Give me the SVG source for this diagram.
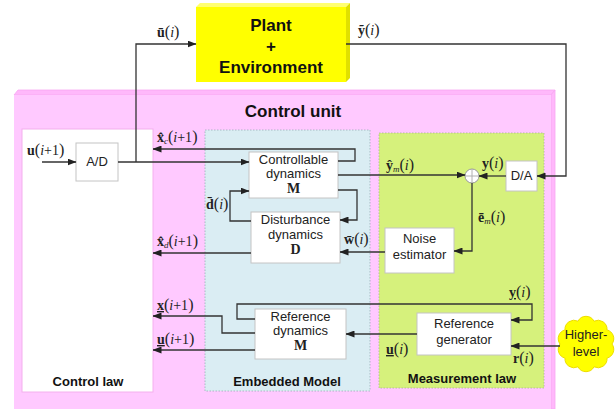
<svg xmlns="http://www.w3.org/2000/svg" width="616" height="409" viewBox="0 0 616 409">
  <style>
    .box { fill: #ffffff; stroke: #c4c4c4; stroke-width: 1; }
    .lbl { font-family: "Liberation Sans", Arial, sans-serif; font-size: 13px; fill: #222; text-anchor: middle; }
    .ttl { font-family: "Liberation Sans", Arial, sans-serif; font-weight: bold; fill: #111; text-anchor: middle; }
    .mx { font-family: "Liberation Serif", "Times New Roman", serif; font-size: 14px; fill: #222; }
    .b { font-weight: bold; }
    .it { font-style: italic; }
    .p { font-size: 16px; }
    .sub { font-size: 9px; font-style: italic; }
    .ul { text-decoration: underline; }
    .wire { fill: none; stroke: #333333; stroke-width: 1.3; }
    .arr { marker-end: url(#head); }
  </style>
  <defs>
    <marker id="head" markerWidth="9" markerHeight="7" refX="8.5" refY="3.5" orient="auto" markerUnits="userSpaceOnUse">
      <path d="M0,0 L9,3.5 L0,7 z" fill="#222222"/>
    </marker>
  </defs>

  <!-- Plant + Environment (bevelled block) -->
  <g id="plant">
    <polygon points="196,7 200,3 350,3 346,7" fill="#ffff70"/>
    <polygon points="346,7 350,3 350,78 346,82" fill="#e0e000"/>
    <rect x="196" y="7" width="150" height="75" fill="#ffff00"/>
    <text class="ttl" x="271" y="31" font-size="17">Plant</text>
    <text class="ttl" x="271" y="52" font-size="17">+</text>
    <text class="ttl" x="271" y="73" font-size="17">Environment</text>
  </g>

  <!-- Control unit (bevelled container) -->
  <g id="control-unit">
    <polygon points="14,95 18,90 555,90 551,95" fill="#ffb8fb" stroke="#f8a6f2" stroke-width="0.8"/>
    <polygon points="551,95 555,90 555,409 551,409" fill="#ffb8fb" stroke="#f8a6f2" stroke-width="0.8"/>
    <rect x="14" y="95" width="537" height="314" fill="#ffc9ff"/>
    <text class="ttl" x="293" y="117" font-size="17">Control unit</text>
  </g>

  <g id="control-law">
    <rect x="22" y="129" width="131" height="263" fill="#ffffff" stroke="#f4b0ee" stroke-width="1"/>
    <text class="ttl" x="88" y="386" font-size="13">Control law</text>
  </g>

  <g id="embedded-model">
    <rect x="205" y="130" width="165" height="261" fill="#daedf3" stroke="#99b0b8" stroke-width="0.8" stroke-dasharray="1.5,1.5"/>
    <text class="ttl" x="287" y="386" font-size="13">Embedded Model</text>
  </g>

  <g id="measurement-law">
    <rect x="379" y="133" width="165" height="255" fill="#d6f17c" stroke="#a9b890" stroke-width="0.8" stroke-dasharray="1.5,1.5"/>
    <text class="ttl" x="462" y="383" font-size="13">Measurement law</text>
  </g>

  <!-- Blocks -->
  <g id="ad">
    <rect class="box" x="76" y="143" width="42" height="38"/>
    <text class="lbl" x="97" y="166">A/D</text>
  </g>

  <g id="controllable">
    <rect class="box" x="249" y="152" width="89" height="46"/>
    <text class="lbl" x="293.5" y="164">Controllable</text>
    <text class="lbl" x="293.5" y="178">dynamics</text>
    <text class="mx b" x="293.5" y="193" text-anchor="middle" font-size="13">M</text>
  </g>

  <g id="disturbance">
    <rect class="box" x="251" y="212" width="89" height="51"/>
    <text class="lbl" x="295.5" y="224">Disturbance</text>
    <text class="lbl" x="295.5" y="239">dynamics</text>
    <text class="mx b" x="295.5" y="254" text-anchor="middle" font-size="13">D</text>
  </g>

  <g id="noise-estimator">
    <rect class="box" x="385" y="228" width="69" height="45"/>
    <text class="lbl" x="419.5" y="243">Noise</text>
    <text class="lbl" x="419.5" y="259">estimator</text>
  </g>

  <g id="da">
    <rect class="box" x="506" y="161" width="31" height="30"/>
    <text class="lbl" x="521.5" y="180">D/A</text>
  </g>

  <g id="sum">
    <circle cx="472" cy="176" r="7" fill="#ffffff" stroke="#9a9a9a" stroke-width="1"/>
    <path d="M465,176 H479 M472,169 V183" stroke="#b0b0b0" stroke-width="1"/>
  </g>

  <g id="reference-dynamics">
    <rect class="box" x="255" y="309" width="91" height="50"/>
    <text class="lbl" x="300.5" y="321">Reference</text>
    <text class="lbl" x="300.5" y="335">dynamics</text>
    <text class="mx b" x="300.5" y="350" text-anchor="middle" font-size="13">M</text>
  </g>

  <g id="reference-generator">
    <rect class="box" x="417" y="313" width="94" height="42"/>
    <text class="lbl" x="464" y="328">Reference</text>
    <text class="lbl" x="464" y="344">generator</text>
  </g>

  <g id="higher-level">
    <path d="M612,344 A9,9 0 0 1 607,358.1 A9,9 0 0 1 594,366.8 A9,9 0 0 1 578,366.8 A9,9 0 0 1 565,358.1 A9,9 0 0 1 560,344 A9,9 0 0 1 565,329.9 A9,9 0 0 1 578,321.2 A9,9 0 0 1 594,321.2 A9,9 0 0 1 607,329.9 A9,9 0 0 1 612,344 z" fill="#ffff00" stroke="#eedd00" stroke-width="1"/>
    <text class="lbl" x="586" y="339">Higher-</text>
    <text class="lbl" x="586" y="356">level</text>
  </g>

  <!-- Connectors -->
  <g id="connectors">
    <path class="wire arr" d="M42,162 H76"/>
    <path class="wire arr" d="M118,162 H249"/>
    <path class="wire arr" d="M136,162 V44 H196"/>
    <path class="wire arr" d="M346,44 H566 V176 H537"/>
    <path class="wire arr" d="M338,161 H355 V149 H153"/>
    <path class="wire arr" d="M338,175 H465"/>
    <path class="wire arr" d="M338,190 H357 V220 H340"/>
    <path class="wire arr" d="M251,221 H230 V191 H249"/>
    <path class="wire arr" d="M251,253 H153"/>
    <path class="wire arr" d="M385,252 H340"/>
    <path class="wire arr" d="M472,183 V251 H454"/>
    <path class="wire arr" d="M506,176 H479"/>
    <path class="wire arr" d="M417,334 H346"/>
    <path class="wire arr" d="M255,319 H237 V304 H532 V320 H511"/>
    <path class="wire arr" d="M255,333 H222 V316 H153"/>
    <path class="wire arr" d="M255,350 H153"/>
    <path class="wire arr" d="M560,346 H511"/>
  </g>

  <!-- Signal labels -->
  <g id="signal-labels">
    <text class="mx" x="157" y="37"><tspan class="b">&#x16B;</tspan><tspan class="p">(</tspan><tspan class="it">i</tspan><tspan class="p">)</tspan></text>
    <text class="mx" x="358" y="35"><tspan class="b">&#x1EF9;</tspan><tspan class="p">(</tspan><tspan class="it">i</tspan><tspan class="p">)</tspan></text>
    <text class="mx" x="27" y="155"><tspan class="b">u</tspan><tspan class="p">(</tspan><tspan class="it">i</tspan>+1<tspan class="p">)</tspan></text>
    <text class="mx" x="157" y="142"><tspan class="b">x&#x302;</tspan><tspan class="sub" dy="2">c</tspan><tspan class="p" dy="-2">(</tspan><tspan class="it">i</tspan>+1<tspan class="p">)</tspan></text>
    <text class="mx" x="157" y="246"><tspan class="b">x&#x302;</tspan><tspan class="sub" dy="2">d</tspan><tspan class="p" dy="-2">(</tspan><tspan class="it">i</tspan>+1<tspan class="p">)</tspan></text>
    <text class="mx" x="157" y="310"><tspan class="b ul">x</tspan><tspan class="p">(</tspan><tspan class="it">i</tspan>+1<tspan class="p">)</tspan></text>
    <text class="mx" x="157" y="344"><tspan class="b ul">u</tspan><tspan class="p">(</tspan><tspan class="it">i</tspan>+1<tspan class="p">)</tspan></text>
    <text class="mx" x="206" y="209"><tspan class="b">d&#x304;</tspan><tspan class="p">(</tspan><tspan class="it">i</tspan><tspan class="p">)</tspan></text>
    <text class="mx" x="386" y="170"><tspan class="b">&#x177;</tspan><tspan class="sub" dy="2">m</tspan><tspan class="p" dy="-2">(</tspan><tspan class="it">i</tspan><tspan class="p">)</tspan></text>
    <text class="mx" x="482" y="168"><tspan class="b">y</tspan><tspan class="p">(</tspan><tspan class="it">i</tspan><tspan class="p">)</tspan></text>
    <text class="mx" x="478" y="222"><tspan class="b">&#x113;</tspan><tspan class="sub" dy="2">m</tspan><tspan class="p" dy="-2">(</tspan><tspan class="it">i</tspan><tspan class="p">)</tspan></text>
    <text class="mx" x="344" y="244"><tspan class="b">w&#x304;</tspan><tspan class="p">(</tspan><tspan class="it">i</tspan><tspan class="p">)</tspan></text>
    <text class="mx" x="509" y="297"><tspan class="b ul">y</tspan><tspan class="p">(</tspan><tspan class="it">i</tspan><tspan class="p">)</tspan></text>
    <text class="mx" x="386" y="354"><tspan class="b ul">u</tspan><tspan class="p">(</tspan><tspan class="it">i</tspan><tspan class="p">)</tspan></text>
    <text class="mx" x="513" y="363"><tspan class="b">r</tspan><tspan class="p">(</tspan><tspan class="it">i</tspan><tspan class="p">)</tspan></text>
  </g>
</svg>
